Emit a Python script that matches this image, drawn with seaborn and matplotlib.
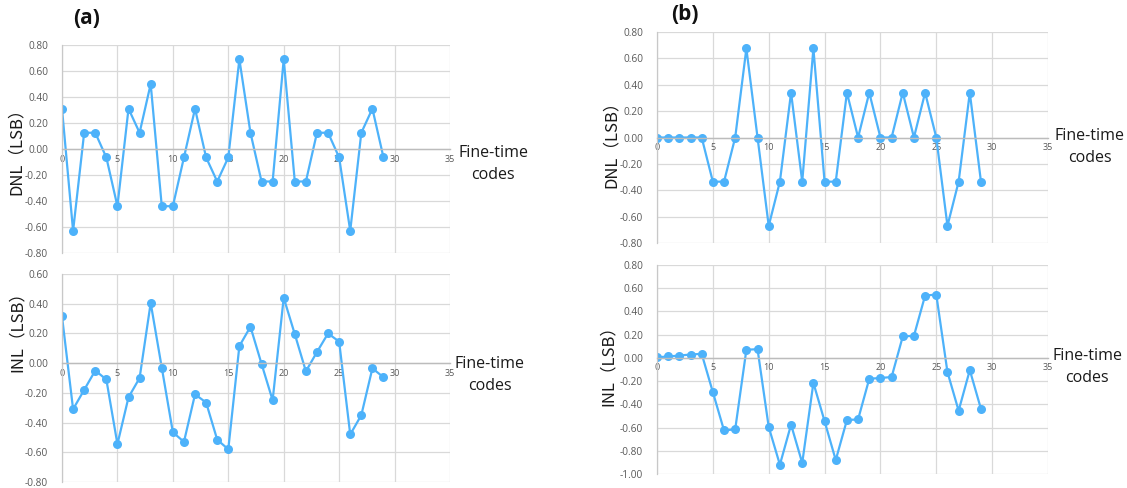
import matplotlib
matplotlib.use('Agg')
import matplotlib.pyplot as plt
from matplotlib.ticker import FormatStrFormatter
import seaborn as sns
import pandas as pd

# fine-time codes 0..29
codes = list(range(30))

# (a) design
dnl_a = [0.31, -0.63, 0.125, 0.125, -0.065, -0.44, 0.31, 0.125, 0.50, -0.44,
         -0.44, -0.065, 0.31, -0.065, -0.25, -0.065, 0.69, 0.125, -0.25, -0.25,
         0.69, -0.25, -0.25, 0.125, 0.125, -0.065, -0.63, 0.125, 0.31, -0.065]
inl_a = [0.315, -0.31, -0.18, -0.05, -0.11, -0.545, -0.23, -0.10, 0.405, -0.03,
         -0.465, -0.53, -0.21, -0.265, -0.515, -0.58, 0.115, 0.245, -0.005, -0.25,
         0.44, 0.195, -0.055, 0.075, 0.20, 0.145, -0.48, -0.35, -0.035, -0.095]

# (b) design
dnl_b = [0.0, 0.0, 0.0, 0.0, 0.0, -0.335, -0.335, 0.0, 0.675, 0.0,
         -0.67, -0.335, 0.34, -0.335, 0.675, -0.335, -0.335, 0.34, 0.0, 0.34,
         0.0, 0.0, 0.34, 0.0, 0.34, 0.0, -0.67, -0.335, 0.34, -0.335]
inl_b = [0.005, 0.012, 0.02, 0.029, 0.035, -0.295, -0.625, -0.615, 0.07, 0.075,
         -0.595, -0.92, -0.575, -0.905, -0.215, -0.545, -0.88, -0.535, -0.53, -0.18,
         -0.173, -0.165, 0.185, 0.19, 0.537, 0.545, -0.122, -0.455, -0.105, -0.44]

sns.set_theme(style='whitegrid')
plt.rcParams['font.family'] = ['Open Sans', 'DejaVu Sans']

W, H = 1127, 488
fig = plt.figure(figsize=(W / 100, H / 100), dpi=100)
fig.patch.set_facecolor('white')

line_color = '#4db2fa'
grid_color = '#d9d9d9'
tick_color = '#595959'
cjk = ['Noto Sans CJK SC', 'DejaVu Sans']


def px_axes(left, top, right, bottom):
    return fig.add_axes([left / W, 1 - bottom / H, (right - left) / W, (bottom - top) / H])


def draw_panel(ax, values, ymin, ymax, ylabel, ylab_xy, xlab_xy):
    df = pd.DataFrame({'code': codes, 'value': values})
    sns.lineplot(data=df, x='code', y='value', ax=ax, color=line_color,
                 linewidth=1.6, marker='o', markersize=6.5, markeredgewidth=0)
    ax.set_facecolor('white')
    ax.set_xlim(0, 35)
    ax.set_ylim(ymin, ymax)
    ax.set_xticks(range(0, 36, 5))
    yt = [round(ymin + 0.2 * i, 2) for i in range(int(round((ymax - ymin) / 0.2)) + 1)]
    ax.set_yticks(yt)
    ax.yaxis.set_major_formatter(FormatStrFormatter('%.2f'))
    ax.grid(True, color=grid_color, linewidth=0.9)
    for side in ['top', 'right']:
        ax.spines[side].set_visible(False)
    ax.spines['left'].set_color('#c8c8c8')
    ax.spines['left'].set_linewidth(0.9)
    ax.spines['bottom'].set_position(('data', 0))
    ax.spines['bottom'].set_color('#bcbcbc')
    ax.spines['bottom'].set_linewidth(1.0)
    ax.tick_params(axis='both', length=0, colors=tick_color)
    ax.tick_params(axis='y', labelsize=7.3, pad=10)
    ax.tick_params(axis='x', labelsize=6.5, pad=4)
    ax.set_xlabel('')
    ax.set_ylabel('')
    fig.text(ylab_xy[0] / W, 1 - ylab_xy[1] / H, ylabel, rotation=90,
             ha='center', va='center', fontsize=12, family=cjk, color='#1a1a1a')
    fig.text(xlab_xy[0] / W, 1 - xlab_xy[1] / H, 'Fine-time\ncodes',
             ha='center', va='center', fontsize=11.5, color='#1a1a1a', linespacing=1.45)


ax1 = px_axes(62, 45, 450, 253)
draw_panel(ax1, dnl_a, -0.8, 0.8, 'DNL（LSB）', (16, 147), (493, 164))

ax2 = px_axes(62, 274, 450, 482)
draw_panel(ax2, inl_a, -0.8, 0.6, 'INL（LSB）', (17, 328), (490, 375))

ax3 = px_axes(657, 32, 1048, 243)
draw_panel(ax3, dnl_b, -0.8, 0.8, 'DNL（LSB）', (611, 140), (1090, 147))

ax4 = px_axes(657, 265, 1048, 474)
draw_panel(ax4, inl_b, -1.0, 0.8, 'INL（LSB）', (608, 362), (1087, 367))

fig.text(87 / W, 1 - 19 / H, '(a)', ha='center', va='center', fontsize=15,
         fontweight='bold', color='#111111')
fig.text(685 / W, 1 - 15 / H, '(b)', ha='center', va='center', fontsize=15,
         fontweight='bold', color='#111111')

fig.savefig('out.png', dpi=100, facecolor='white')
